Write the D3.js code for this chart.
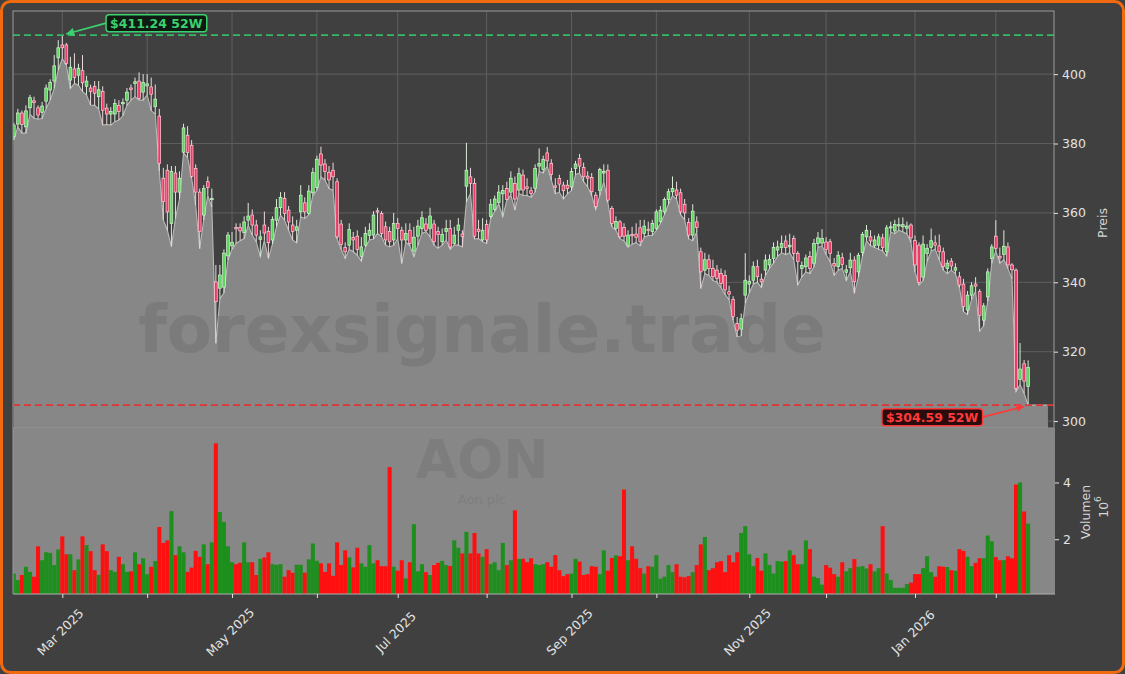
<!DOCTYPE html>
<html>
<head>
<meta charset="utf-8">
<script src="https://cdn.jsdelivr.net/npm/d3@7"></script>
<style>
html,body{margin:0;padding:0;background:#404040;}
svg{display:block;}
text{font-family:"DejaVu Sans",sans-serif;}
</style>
</head>
<body>
<svg id="chart" width="1125" height="674"></svg>
<script>
// ---------------- DATA ----------------
const firstDay = "2025-02-12";
const lastDay = "2026-02-12";
const marketHolidays = ["2025-02-17","2025-04-18","2025-05-26","2025-06-19","2025-07-04",
  "2025-09-01","2025-11-27","2025-12-25","2026-01-01","2026-01-19"];

const openPrices = [
382.0,385.6,388.8,384.8,390.3,392.3,390.3,389.0,392.2,395.4,398.0,404.7,
408.4,408.4,398.3,401.5,399.7,401.0,396.5,396.0,396.5,393.5,
395.0,390.2,388.5,388.5,391.0,391.5,392.5,396.0,397.3,398.0,
394.8,396.6,396.3,390.6,387.9,370.0,372.3,357.0,371.5,366.0,
377.5,382.4,379.5,372.8,366.0,359.4,369.0,363.8,340.1,338.3,
338.6,347.6,350.5,355.8,355.8,354.3,357.9,359.4,356.5,352.4,
356.5,354.7,352.2,357.9,361.5,364.2,360.8,356.5,355.0,360.3,
362.9,359.8,365.8,367.3,377.0,374.1,371.7,372.3,369.0,356.8,
350.0,350.7,352.9,353.3,347.5,350.7,353.5,353.6,360.6,359.8,
356.0,354.6,352.2,357.0,355.0,352.2,355.0,349.0,353.3,355.5,
356.8,355.5,356.8,354.6,351.7,354.6,355.5,351.2,355.0,353.9,
367.7,370.4,368.5,355.3,352.2,356.7,359.0,361.0,363.0,365.5,
367.0,366.0,368.5,366.6,370.9,367.5,366.4,367.1,373.5,372.5,
377.3,374.3,367.8,369.9,368.0,368.0,367.5,372.8,375.7,373.1,
370.6,370.2,365.1,366.5,371.5,372.3,361.3,355.5,357.4,355.8,
350.7,353.8,353.9,355.7,354.1,355.3,354.6,355.5,357.5,360.3,
363.9,366.1,366.6,365.8,362.5,357.2,353.6,357.4,348.8,343.5,
346.5,344.0,343.5,342.5,342.0,337.3,335.1,328.1,326.5,336.3,
339.5,340.6,344.5,340.9,343.5,345.0,346.9,349.3,350.0,351.9,
350.2,352.6,348.3,344.0,344.5,347.4,345.5,351.2,351.3,351.6,
351.7,345.4,344.5,347.1,342.9,344.2,346.4,343.0,348.6,353.1,
353.1,350.5,350.7,352.8,348.8,355.7,354.8,356.3,356.0,355.6,
356.5,352.0,350.7,341.5,348.3,350.0,351.4,350.5,348.8,344.0,
346.1,343.5,341.6,339.5,332.0,336.3,339.5,337.3,329.1,335.8,
346.9,353.3,347.5,348.0,350.2,345.0,343.5,312.0,316.5,310.0];

const highPrices = [
386.0,390.0,389.5,391.0,394.0,393.5,391.0,392.0,397.0,398.5,405.5,409.8,
411.24,409.0,405.0,406.0,403.0,405.5,399.5,397.0,398.0,398.0,
396.5,391.5,390.5,392.8,392.5,393.0,396.0,397.0,399.0,400.5,
400.0,400.0,399.0,397.0,390.0,373.0,374.0,373.5,373.5,372.0,
385.7,385.0,381.0,374.0,367.0,368.0,370.5,367.0,345.0,345.0,
349.5,354.5,354.5,357.0,357.0,359.0,362.9,361.0,358.0,355.0,
360.4,356.0,359.0,364.0,366.0,366.0,362.0,359.0,358.0,368.0,
364.5,368.0,373.0,376.5,379.1,375.5,373.5,374.5,370.0,358.0,
351.5,357.0,354.5,355.0,353.0,356.0,357.0,360.5,361.5,360.5,
357.5,356.0,360.0,358.5,356.0,357.0,357.0,356.0,358.0,360.5,
358.5,361.5,358.0,356.0,355.5,358.0,358.0,356.0,358.5,355.0,
380.2,373.0,370.0,358.0,358.5,358.0,364.0,365.0,368.0,368.0,
369.0,372.0,370.5,373.0,372.5,370.0,367.5,374.0,378.6,376.5,
379.0,375.5,370.0,371.0,369.0,369.5,373.0,375.0,377.0,374.5,
372.0,371.5,366.0,373.0,374.0,374.0,362.0,359.0,358.0,357.0,
355.0,356.0,357.0,358.0,358.0,357.5,358.0,361.0,362.0,364.5,
367.0,370.5,369.0,367.0,364.0,358.5,362.5,359.0,350.0,348.5,
348.0,346.5,345.0,344.0,343.5,339.0,336.0,330.0,331.0,348.4,
342.0,346.0,346.5,342.5,348.0,348.0,351.5,352.0,353.5,353.5,
354.0,353.5,349.0,346.0,348.0,349.0,352.5,354.5,355.3,353.0,
352.5,347.0,349.0,348.5,345.0,348.5,347.5,348.5,354.5,356.5,
355.0,353.5,354.0,354.0,356.5,357.5,358.0,358.6,358.7,357.5,
357.0,353.5,351.5,353.5,351.0,355.5,353.5,353.8,350.0,346.5,
347.0,345.5,343.0,341.0,337.5,340.0,341.5,338.0,334.0,344.0,
351.0,357.9,350.0,355.0,351.5,345.5,344.0,322.5,317.6,317.5];

const lowPrices = [
381.0,384.8,383.0,383.0,388.4,387.3,387.0,387.2,390.1,392.5,395.9,401.2,
404.5,402.6,395.9,397.3,396.8,395.0,394.0,391.1,391.0,390.0,
385.3,385.5,385.3,386.3,386.8,388.0,391.0,392.5,393.5,392.5,
392.5,394.0,389.5,388.5,372.0,358.0,355.0,350.3,358.4,364.0,
377.3,376.0,370.0,362.2,349.7,358.0,365.0,361.7,322.4,335.3,
337.0,346.5,349.5,351.2,352.0,352.6,356.5,353.6,351.7,347.4,
352.0,346.9,351.0,356.0,359.4,357.9,355.0,352.2,351.4,358.9,
358.4,359.5,365.0,366.5,370.4,369.5,367.0,366.5,352.5,349.5,
346.9,349.5,348.8,347.8,346.1,350.2,352.2,352.5,354.1,353.1,
350.7,350.2,350.7,352.6,345.4,351.5,350.5,347.4,350.7,354.1,
354.6,353.1,350.7,349.8,350.7,352.2,349.5,350.7,350.7,350.2,
363.2,365.6,352.5,352.6,351.7,351.2,358.4,360.5,362.6,358.9,
363.7,365.1,360.8,365.6,365.0,365.0,364.5,366.0,372.0,371.5,
373.5,369.5,365.5,366.0,364.0,365.5,366.5,371.0,371.5,369.0,
367.5,365.0,361.0,365.0,369.0,363.0,356.0,355.0,352.5,352.0,
350.1,351.0,351.5,350.5,353.0,353.5,353.5,355.0,357.0,359.5,
362.5,365.0,364.0,359.5,358.0,352.5,352.0,354.5,338.2,342.5,
342.0,340.5,340.0,338.5,336.5,335.0,329.0,324.3,324.5,334.0,
337.0,339.5,340.0,338.5,342.0,344.0,345.5,347.5,348.5,348.0,
348.5,346.5,339.2,341.5,343.0,342.5,344.5,350.0,350.5,348.0,
346.0,342.0,343.5,344.0,340.5,343.0,336.8,341.5,347.5,352.0,
350.5,350.0,349.5,349.0,347.5,354.5,354.0,355.0,354.5,354.0,
351.5,343.0,339.2,340.5,346.0,349.0,349.5,346.5,343.5,342.5,
343.5,342.5,338.5,331.5,330.7,335.0,337.5,325.9,327.5,334.5,
345.5,349.0,345.5,346.5,344.0,341.0,308.5,310.5,308.0,304.59];

const closePrices = [
385.3,388.8,385.5,389.4,393.2,391.8,388.2,390.8,396.0,397.6,402.4,407.6,
407.6,403.1,402.0,399.0,401.7,397.5,398.0,395.0,394.5,395.5,
389.6,388.5,389.2,391.5,389.2,391.8,394.8,395.6,397.8,393.0,
397.6,397.2,394.2,392.8,374.3,363.3,360.3,372.0,366.0,370.0,
384.5,377.4,370.5,366.0,354.6,367.0,367.3,364.2,334.4,342.1,
348.4,353.6,351.5,355.4,354.8,357.4,359.1,356.5,353.6,353.1,
354.2,351.4,358.1,361.5,364.5,359.8,357.4,354.6,356.0,365.1,
360.3,366.3,371.6,375.5,373.8,371.9,369.5,370.4,353.1,350.9,
348.8,355.2,352.2,349.5,350.2,354.1,355.0,359.4,360.4,354.1,
352.2,351.7,357.0,355.5,352.2,354.1,351.2,353.0,356.2,358.6,
355.0,359.1,351.7,353.8,353.8,355.5,350.2,353.6,356.5,353.2,
372.3,368.5,353.3,354.6,355.0,352.2,362.5,364.0,366.0,366.5,
363.9,370.0,364.0,371.3,366.6,367.0,365.6,372.8,374.2,375.4,
375.0,371.1,367.4,368.3,366.4,367.0,371.9,374.1,373.5,370.4,
370.0,366.1,361.8,372.5,372.0,363.7,357.0,357.5,353.1,353.3,
353.6,353.4,353.0,351.7,356.2,355.0,357.0,360.3,360.8,363.9,
366.1,367.0,365.1,360.3,360.0,353.6,360.5,355.8,343.0,346.5,
344.0,341.6,341.1,339.7,337.8,336.6,330.1,326.2,329.5,340.6,
340.3,344.5,341.6,340.2,346.4,346.6,350.0,350.2,351.2,350.0,
350.7,348.3,346.0,344.8,347.0,344.0,351.2,352.8,352.6,349.5,
348.3,344.7,347.8,345.1,343.6,346.4,340.2,347.8,353.8,355.0,
351.9,352.2,353.1,350.0,355.7,356.0,356.7,356.6,356.6,356.2,
352.8,345.0,340.0,351.0,349.8,352.0,350.7,348.8,344.5,345.5,
344.7,344.2,339.2,333.0,336.3,339.0,338.9,330.5,333.2,343.0,
350.2,349.8,347.0,350.4,345.0,343.6,309.4,315.0,311.5,315.5];

// volume in millions of shares
const volumeMillions = [
0.79,0.56,0.74,1.03,0.85,0.68,1.75,1.26,1.54,1.52,1.09,1.64,
2.10,1.47,1.47,0.91,1.29,2.10,1.79,1.58,0.91,0.74,
1.82,1.58,0.91,0.85,1.38,1.12,0.85,0.87,1.54,1.12,
1.33,0.77,1.03,1.23,2.43,1.87,1.96,2.99,1.44,1.75,
1.54,0.85,1.00,1.59,1.38,1.82,1.12,1.89,5.38,2.96,
2.61,1.75,1.19,1.12,1.17,1.89,1.19,1.19,0.74,1.31,
1.36,1.54,1.12,1.10,1.12,0.68,0.91,0.82,1.10,1.10,
0.82,1.29,1.85,1.24,1.15,0.85,1.15,0.71,1.89,1.09,
1.61,1.36,1.01,1.70,1.15,1.03,1.79,1.15,1.26,1.05,
1.05,4.54,1.03,0.89,1.26,0.62,1.19,2.53,0.87,1.12,
0.84,0.74,1.09,1.17,1.24,1.09,1.06,1.96,1.70,1.50,
2.26,1.50,2.22,1.50,1.38,1.65,1.12,1.19,0.91,1.87,
1.09,1.26,3.02,1.31,1.31,1.19,1.33,1.12,1.09,1.12,
1.19,1.03,1.44,0.91,0.70,0.77,0.79,1.31,1.21,0.74,
0.77,1.05,1.03,0.77,1.61,0.89,1.34,1.43,1.40,3.75,
1.26,1.75,1.31,0.98,0.79,1.05,1.03,1.44,0.61,0.68,
1.09,0.84,1.12,0.68,0.66,0.70,0.84,1.09,1.82,2.08,
0.91,0.98,1.19,1.23,0.84,1.44,1.19,1.54,2.22,2.46,
1.47,1.05,1.34,0.89,1.50,1.09,0.79,1.23,1.21,1.23,
1.61,1.44,1.12,1.12,1.96,1.65,0.68,0.63,0.40,1.09,
1.00,0.77,0.68,1.19,0.87,0.98,1.30,1.03,1.05,0.97,
1.12,0.87,0.98,2.46,0.79,0.56,0.29,0.29,0.29,0.42,
0.47,0.77,0.77,0.98,1.40,0.84,0.68,1.05,1.03,1.02,
0.91,0.89,1.65,1.59,1.38,1.05,1.17,1.33,1.33,2.13,
1.93,1.37,1.26,1.26,1.40,1.33,3.93,4.00,2.98,2.55];

const priceTicks = [300, 320, 340, 360, 380, 400];
const volumeTicks = [2, 4];
const watermarkMain = "forexsignale.trade";
const tickerSymbol = "AON";
const companyName = "Aon plc";
const priceAxisLabel = "Preis";
const volumeAxisLabel = "Volumen";

// ---------------- DATES (trading days) ----------------
const parse = d3.utcParse("%Y-%m-%d");
const fmtKey = d3.utcFormat("%Y-%m-%d");
const holidaySet = new Set(marketHolidays);
const dates = [];
for (let d = parse(firstDay); d <= parse(lastDay); d = d3.utcDay.offset(d, 1)) {
  const wd = d.getUTCDay();
  if (wd === 0 || wd === 6) continue;
  if (holidaySet.has(fmtKey(d))) continue;
  dates.push(d);
}
const N = dates.length;
const bars = d3.range(N).map(i => ({
  i, date: dates[i], o: openPrices[i], h: highPrices[i], l: lowPrices[i], c: closePrices[i], v: volumeMillions[i]
}));

// ---------------- LAYOUT ----------------
const W = 1125, H = 674;
const plotL = 13, plotR = 1054;
const priceT = 11, priceB = 428;
const volT = 428, volB = 594;

const svg = d3.select("#chart");
svg.append("rect").attr("x",1.5).attr("y",1.5).attr("width",W-3).attr("height",H-3)
  .attr("rx",9).attr("fill","#404040").attr("stroke","#f26a10").attr("stroke-width",3);

const x = d3.scaleLinear().domain([-0.2, N + 5.4]).range([plotL, plotR]);
const yP = d3.scaleLinear().domain([298.0, 418.2]).range([priceB, priceT]);
const yV = d3.scaleLinear().domain([0.07, 5.92]).range([volB, volT]);
const step = x(1) - x(0);

// month ticks: first trading day of each month
const monthTicks = [];
for (let i = 1; i < N; i++) {
  if (dates[i].getUTCMonth() !== dates[i-1].getUTCMonth()) monthTicks.push(i);
}
const labeled = i => dates[i].getUTCMonth() % 2 === 0;
const monthFmt = d3.utcFormat("%b %Y");

// clip paths
const defs = svg.append("defs");
defs.append("clipPath").attr("id","clipP").append("rect")
  .attr("x",plotL).attr("y",priceT).attr("width",plotR-plotL).attr("height",priceB-priceT);
defs.append("clipPath").attr("id","clipV").append("rect")
  .attr("x",plotL).attr("y",volT).attr("width",plotR-plotL+1).attr("height",volB-volT);

// ---------------- PRICE PANEL ----------------
const gP = svg.append("g");
gP.append("rect").attr("x",plotL).attr("y",priceT).attr("width",plotR-plotL).attr("height",priceB-priceT)
  .attr("fill","#404040");

// grid
const grid = gP.append("g").attr("clip-path","url(#clipP)");
grid.selectAll("line.h").data(priceTicks).join("line")
  .attr("x1",plotL).attr("x2",plotR).attr("y1",d=>yP(d)).attr("y2",d=>yP(d))
  .attr("stroke","#5e5e5e").attr("stroke-width",1);
grid.selectAll("line.v").data(monthTicks).join("line")
  .attr("x1",d=>x(d)).attr("x2",d=>x(d)).attr("y1",priceT).attr("y2",priceB)
  .attr("stroke","#5e5e5e").attr("stroke-width",1);

// area of lows
const areaPts = bars.map(b => [b.i, b.l]);
areaPts.push([N - 1 + 4.9, bars[N-1].l]);
const areaGen = d3.area().x(d=>x(d[0])).y0(priceB).y1(d=>yP(d[1]));
const lineGen = d3.line().x(d=>x(d[0])).y(d=>yP(d[1]));
const gA = gP.append("g").attr("clip-path","url(#clipP)");
gA.append("path").datum(areaPts).attr("d",areaGen).attr("fill","#878787");
gA.append("path").datum(areaPts).attr("d",lineGen).attr("fill","none")
  .attr("stroke","#b9b9b9").attr("stroke-width",1.1);

// watermark
gP.append("text").attr("x",482).attr("y",352).attr("text-anchor","middle")
  .attr("font-size",66).attr("font-weight","bold").attr("fill","#5a5a5a").attr("opacity",0.26)
  .text(watermarkMain);

// candles
const upFill = "#5cd65c", upEdge = "#d4f5d4";
const dnFill = "#ee3a64", dnEdge = "#ffd0da";
const gC = gP.append("g").attr("clip-path","url(#clipP)");
gC.selectAll("line.wick").data(bars).join("line")
  .attr("x1",d=>x(d.i)).attr("x2",d=>x(d.i))
  .attr("y1",d=>yP(d.h)).attr("y2",d=>yP(d.l))
  .attr("stroke",d=>d.c>=d.o ? "#d8ecd8" : "#ecd8dc").attr("stroke-width",1);
const bodyW = step*0.68;
gC.selectAll("rect.body").data(bars).join("rect")
  .attr("x",d=>x(d.i)-bodyW/2).attr("width",bodyW)
  .attr("y",d=>yP(Math.max(d.o,d.c)))
  .attr("height",d=>Math.max(1.2, Math.abs(yP(d.o)-yP(d.c))))
  .attr("fill",d=>d.c>=d.o ? upFill : dnFill)
  .attr("stroke",d=>d.c>=d.o ? upEdge : dnEdge).attr("stroke-width",0.7);

// 52W high / low lines
const hiIdx = d3.maxIndex(bars, b=>b.h), loIdx = d3.minIndex(bars, b=>b.l);
const hi = bars[hiIdx].h, lo = bars[loIdx].l;
gP.append("line").attr("x1",plotL).attr("x2",plotR).attr("y1",yP(hi)).attr("y2",yP(hi))
  .attr("stroke","#37b865").attr("stroke-width",1.6).attr("stroke-dasharray","7,4");
gP.append("line").attr("x1",plotL).attr("x2",plotR).attr("y1",yP(lo)).attr("y2",yP(lo))
  .attr("stroke","#e03535").attr("stroke-width",1.6).attr("stroke-dasharray","7,4");

// frame
gP.append("rect").attr("x",plotL).attr("y",priceT).attr("width",plotR-plotL).attr("height",priceB-priceT)
  .attr("fill","none").attr("stroke","#9a9a9a").attr("stroke-width",1);

// ---------------- VOLUME PANEL ----------------
const gV = svg.append("g");
gV.append("rect").attr("x",plotL).attr("y",volT).attr("width",plotR-plotL+1).attr("height",volB-volT)
  .attr("fill","#878787");
gV.append("text").attr("x",482).attr("y",478).attr("text-anchor","middle")
  .attr("font-size",54).attr("font-weight","bold").attr("fill","#5a5a5a").attr("opacity",0.2)
  .text(tickerSymbol);
gV.append("text").attr("x",482).attr("y",504).attr("text-anchor","middle")
  .attr("font-size",13).attr("fill","#5a5a5a").attr("opacity",0.2)
  .text(companyName);
const gVB = gV.append("g").attr("clip-path","url(#clipV)");
gVB.selectAll("rect").data(bars).join("rect")
  .attr("x",d=>x(d.i)-step/2).attr("width",step)
  .attr("y",d=>yV(d.v)).attr("height",d=>volB-yV(d.v))
  .attr("fill",d=>d.c>=d.o ? "#1c8f1c" : "#ff1010");
gV.append("line").attr("x1",plotL).attr("x2",plotR+1).attr("y1",volB).attr("y2",volB)
  .attr("stroke","#b0b0b0").attr("stroke-width",1);
gV.append("line").attr("x1",plotL).attr("x2",plotL).attr("y1",volT).attr("y2",volB)
  .attr("stroke","#9a9a9a").attr("stroke-width",1);

// ---------------- AXES ----------------
const axisColor = "#e2e2e2";
const yAxisP = svg.append("g").attr("transform",`translate(${plotR},0)`)
  .call(d3.axisRight(yP).tickValues(priceTicks).tickSize(4).tickPadding(4).tickFormat(d3.format("d")));
const yAxisV = svg.append("g").attr("transform",`translate(${plotR+1},0)`)
  .call(d3.axisRight(yV).tickValues(volumeTicks).tickSize(4).tickPadding(4).tickFormat(d3.format("d")));
const xAxis = svg.append("g").attr("transform",`translate(0,${volB})`)
  .call(d3.axisBottom(x).tickValues(monthTicks).tickSize(4).tickFormat(""));
[yAxisP, yAxisV, xAxis].forEach(g => {
  g.select(".domain").remove();
  g.selectAll(".tick line").attr("stroke",axisColor);
  g.selectAll(".tick text").attr("fill",axisColor).attr("font-size",12.5)
    .attr("font-family","DejaVu Sans");
});
// x labels rotated
svg.append("g").selectAll("text").data(monthTicks.filter(labeled)).join("text")
  .attr("transform",d=>`translate(${x(d)-2},632) rotate(-45)`)
  .attr("text-anchor","middle").attr("dominant-baseline","central")
  .attr("font-size",12.5).attr("fill",axisColor)
  .text(d=>monthFmt(dates[d]));

// axis labels
svg.append("text").attr("transform","translate(1102,223) rotate(-90)")
  .attr("text-anchor","middle").attr("dominant-baseline","central")
  .attr("font-size",12.5).attr("fill","#d6d6d6").text(priceAxisLabel);
svg.append("text").attr("transform","translate(1085,512) rotate(-90)")
  .attr("text-anchor","middle").attr("dominant-baseline","central")
  .attr("font-size",12.5).attr("fill","#d6d6d6").text(volumeAxisLabel);
const off = svg.append("text").attr("transform","translate(1103,507) rotate(-90)")
  .attr("text-anchor","middle").attr("dominant-baseline","central")
  .attr("font-size",12.5).attr("fill","#d6d6d6");
off.append("tspan").text("10");
off.append("tspan").attr("dy",-5).attr("font-size",9).text("6");

// ---------------- ANNOTATIONS ----------------
function annot(px, py, boxX, boxY, label, color, bg, arrowFrom) {
  const g = svg.append("g");
  const t = g.append("text").attr("x",boxX).attr("y",boxY).attr("text-anchor","middle")
    .attr("dominant-baseline","central").attr("font-size",12.5).attr("font-weight","bold")
    .attr("fill",color).text(label);
  const bb = t.node().getBBox();
  g.insert("rect","text").attr("x",bb.x-4).attr("y",bb.y-1).attr("width",bb.width+8).attr("height",bb.height+2)
    .attr("rx",3).attr("fill",bg).attr("stroke",color).attr("stroke-width",1.5);
  const fx = arrowFrom === "left" ? bb.x-4 : bb.x+bb.width+4;
  const fy = boxY;
  const ang = Math.atan2(py-fy, px-fx);
  const tx = px - Math.cos(ang)*4, ty = py - Math.sin(ang)*4;
  g.append("line").attr("x1",fx).attr("y1",fy).attr("x2",tx).attr("y2",ty)
    .attr("stroke",color).attr("stroke-width",1.6);
  const ah = 8, aw = 4;
  const bx = tx - Math.cos(ang)*ah, by = ty - Math.sin(ang)*ah;
  g.append("path").attr("d",`M${tx},${ty}L${bx - Math.sin(ang)*aw},${by + Math.cos(ang)*aw}L${bx + Math.sin(ang)*aw},${by - Math.cos(ang)*aw}Z`)
    .attr("fill",color);
}
annot(x(hiIdx), yP(hi), x(hiIdx)+94, yP(hi)-12, `$${hi.toFixed(2)} 52W`, "#3bd16f", "#0f1a12", "left");
annot(x(loIdx), yP(lo), x(loIdx)-96, yP(lo)+12, `$${lo.toFixed(2)} 52W`, "#ff3a3a", "#2a0c0c", "right");
</script>
</body>
</html>
